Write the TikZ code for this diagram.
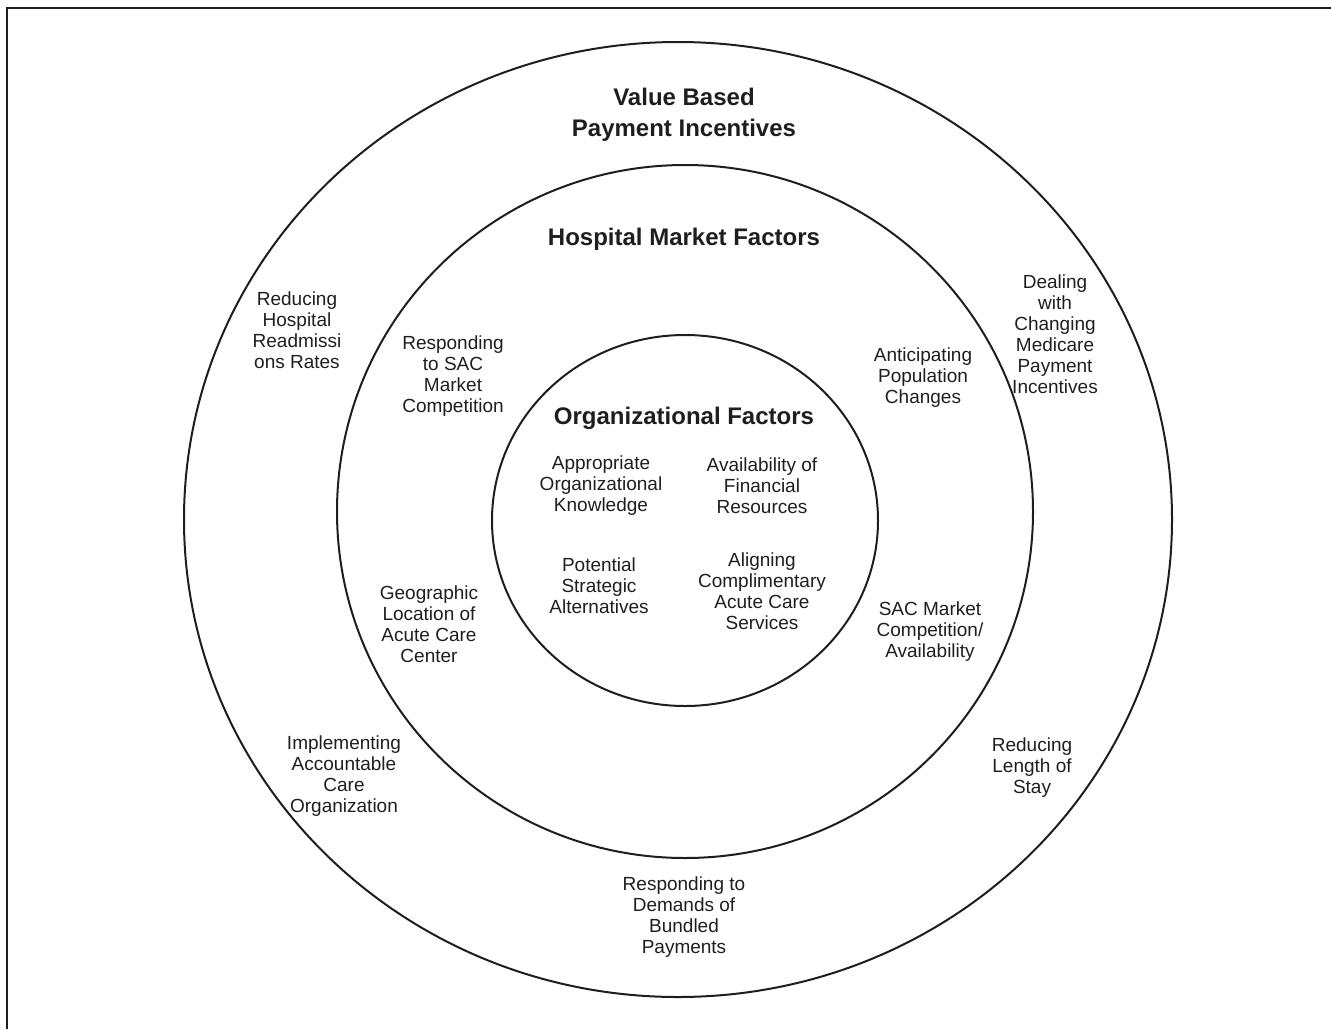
\documentclass[tikz,border=0pt]{standalone}
\usepackage{fontspec}
\setmainfont{Liberation Sans}
\definecolor{ink}{RGB}{30,30,30}
\begin{document}
\begin{tikzpicture}[x=1pt,y=-1pt,
  ring/.style={draw=ink,line width=2pt},
  frame/.style={draw=ink,line width=2pt},
  lbl/.style={align=center,text=ink,inner sep=0pt,font=\fontsize{19}{21}\selectfont},
  ttl/.style={align=center,text=ink,inner sep=0pt,font=\fontsize{24}{31}\selectfont\bfseries}]
\useasboundingbox (0,0) rectangle (1331,1029);
\draw[frame] (7,1029) -- (7,8) -- (1331,8);
% rings
\draw[ring] (678,519.5) ellipse [x radius=494, y radius=477.5];
\draw[ring] (685,511.5) ellipse [x radius=348, y radius=346.5];
\draw[ring] (685,520.5) ellipse [x radius=193, y radius=185.5];
% titles
\node[ttl] (vbpi) at (684,114.5) {Value Based\\Payment Incentives};
\node[ttl] (hmf) at (684,239) {Hospital Market Factors};
\node[ttl] (orgf) at (684,418) {Organizational Factors};
% inner
\node[lbl] (app) at (601,486) {Appropriate\\Organizational\\Knowledge};
\node[lbl] (avail) at (762,486) {Availability of\\Financial\\Resources};
\node[lbl] (pot) at (599,586) {Potential\\Strategic\\Alternatives};
\node[lbl] (alg) at (762,591) {Aligning\\Complimentary\\Acute Care\\Services};
% middle
\node[lbl] (respsac) at (453,376.5) {Responding\\to SAC\\Market\\Competition};
\node[lbl] (antic) at (923,377.5) {Anticipating\\Population\\Changes};
\node[lbl] (geo) at (429,624.5) {Geographic\\Location of\\Acute Care\\Center};
\node[lbl] (sacmc) at (930,631.5) {SAC Market\\Competition/\\Availability};
% outer
\node[lbl] (redhosp) at (297,330) {Reducing\\Hospital\\Readmissi\\ons Rates};
\node[lbl] (deal) at (1055,334) {Dealing\\with\\Changing\\Medicare\\Payment\\Incentives};
\node[lbl] (impl) at (344,776.5) {Implementing\\Accountable\\Care\\Organization};
\node[lbl] (redlen) at (1032,768) {Reducing\\Length of\\Stay};
\node[lbl] (respdem) at (684,917) {Responding to\\Demands of\\Bundled\\Payments};
\end{tikzpicture}
\end{document}
